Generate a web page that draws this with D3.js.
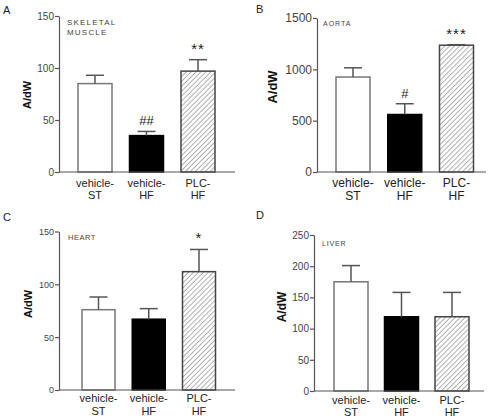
<!DOCTYPE html>
<html><head><meta charset="utf-8">
<script src="https://cdn.jsdelivr.net/npm/d3@7"></script>
<style>body{margin:0;background:#fff}svg{display:block}</style>
</head><body>
<svg id="c" width="492" height="419"></svg>
<script>
const categories = [["vehicle-","ST"],["vehicle-","HF"],["PLC-","HF"]];
const panelLetters = ["A","B","C","D"];
const tissues = [["SKELETAL","MUSCLE"],["AORTA"],["HEART"],["LIVER"]];
const yMax = [150, 1500, 150, 250];
const yTicks = [[0,50,100,150],[0,500,1000,1500],[0,50,100,150],[0,50,100,150,200,250]];
const meansA = [85, 35, 97];
const semA   = [8, 4, 11];
const meansB = [925, 560, 1235];
const semB   = [90, 105, 5];
const meansC = [76, 67, 112];
const semC   = [12, 10, 21];
const meansD = [175, 119, 119];
const semD   = [26, 39, 39];
const sigA = ["", "##", "**"];
const sigB = ["", "#", "***"];
const sigC = ["", "", "*"];
const sigD = ["", "", ""];

const svg = d3.select("#c");
const defs = svg.append("defs");
const pat = defs.append("pattern").attr("id","hatch").attr("patternUnits","userSpaceOnUse")
  .attr("width",3.5).attr("height",3.5).attr("patternTransform","rotate(45)");
pat.append("rect").attr("width",3.5).attr("height",3.5).attr("fill","#fff");
pat.append("line").attr("x1",0).attr("y1",0).attr("x2",0).attr("y2",3.5).attr("stroke","#666").attr("stroke-width",1);

const layouts = [
  {ax:59, yb:172, yt:16, c0:95, c1:198, bw:34, xe:235, lx:3, ly:14, tfs:10, lfs:11, yl:[28,95], ylfs:11, tx:67, ty:25, tsz:8, tls:1.2, cl:[187,199]},
  {ax:317, yb:172, yt:18, c0:353, c1:456.5, bw:34, xe:486, lx:256, ly:13, tfs:12, lfs:12, yl:[274,87], ylfs:13, tx:323, ty:26, tsz:7, tls:1, cl:[187,200]},
  {ax:59, yb:390, yt:231.5, c0:98.5, c1:199, bw:33, xe:235, lx:3, ly:221, tfs:9, lfs:11, yl:[29,304], ylfs:11, tx:68, ty:240, tsz:7.5, tls:0.5, cl:[402,415]},
  {ax:314, yb:391, yt:235, c0:351, c1:452, bw:34, xe:484, lx:256, ly:219, tfs:10, lfs:11, yl:[283,307], ylfs:12, tx:322, ty:246, tsz:7, tls:0.8, cl:[404,416]}
];
const means = [meansA, meansB, meansC, meansD];
const sems = [semA, semB, semC, semD];
const sigs = [sigA, sigB, sigC, sigD];
const fills = ["#fff", "#000", "url(#hatch)"];
const strokes = ["#777", "#000", "#444"];
const font = "Liberation Sans, Arial, sans-serif";

layouts.forEach((L, p) => {
  const g = svg.append("g");
  const y = d3.scaleLinear().domain([0, yMax[p]]).range([L.yb, L.yt]);
  const x = d3.scalePoint().domain(d3.range(3)).range([L.c0, L.c1]);
  g.selectAll("rect.bar").data(means[p]).join("rect")
    .attr("x", (d,i) => x(i) - L.bw/2).attr("width", L.bw)
    .attr("y", d => y(d)).attr("height", d => L.yb - y(d))
    .attr("fill", (d,i) => fills[i]).attr("stroke", (d,i) => strokes[i]).attr("stroke-width", 1.5);
  means[p].forEach((m, i) => {
    const cx = x(i), top = y(m + sems[p][i]);
    g.append("line").attr("x1",cx).attr("x2",cx).attr("y1",y(m)).attr("y2",top).attr("stroke","#555").attr("stroke-width",1.5);
    g.append("line").attr("x1",cx-9).attr("x2",cx+9).attr("y1",top).attr("y2",top).attr("stroke","#555").attr("stroke-width",1.5);
    if (sigs[p][i]) {
      g.append("text").attr("x",cx).attr("y",top-6).attr("text-anchor","middle")
        .attr("font-family",font).attr("font-size", sigs[p][i].includes("*") ? 15 : 13)
        .attr("fill","#222").attr("letter-spacing", sigs[p][i].includes("*") ? 1 : 0)
        .text(sigs[p][i]);
    }
  });
  const ya = g.append("g").attr("transform",`translate(${L.ax},0)`)
    .call(d3.axisLeft(y).tickValues(yTicks[p]).tickFormat(d3.format("d")).tickSize(4).tickSizeOuter(0));
  ya.select(".domain").attr("stroke","#555").attr("stroke-width",1.2);
  ya.selectAll(".tick line").attr("stroke","#555").attr("stroke-width",1.2);
  ya.selectAll(".tick text").attr("font-family",font).attr("font-size",L.tfs).attr("fill","#444").attr("x",-5);
  g.append("line").attr("x1",L.ax).attr("x2",L.xe).attr("y1",L.yb).attr("y2",L.yb).attr("stroke","#555").attr("stroke-width",1.2);
  categories.forEach((c, i) => {
    c.forEach((t, k) => {
      g.append("text").attr("x", x(i)).attr("y", L.cl[k]).attr("text-anchor","middle")
        .attr("font-family",font).attr("font-size",L.lfs).attr("fill","#222").text(t);
    });
  });
  g.append("text").attr("transform",`translate(${L.yl[0]},${L.yl[1]}) rotate(-90)`)
    .attr("text-anchor","middle").attr("dominant-baseline","middle")
    .attr("font-family",font).attr("font-weight","bold").attr("font-size",L.ylfs).attr("fill","#111").text("A/dW");
  g.append("text").attr("x",L.lx).attr("y",L.ly).attr("font-family",font).attr("font-size",11).attr("fill","#222").text(panelLetters[p]);
  tissues[p].forEach((t, k) => {
    g.append("text").attr("x",L.tx).attr("y",L.ty + k*10).attr("font-family",font)
      .attr("font-size",L.tsz).attr("letter-spacing",L.tls).attr("fill","#444").text(t);
  });
});
</script>
</body></html>
